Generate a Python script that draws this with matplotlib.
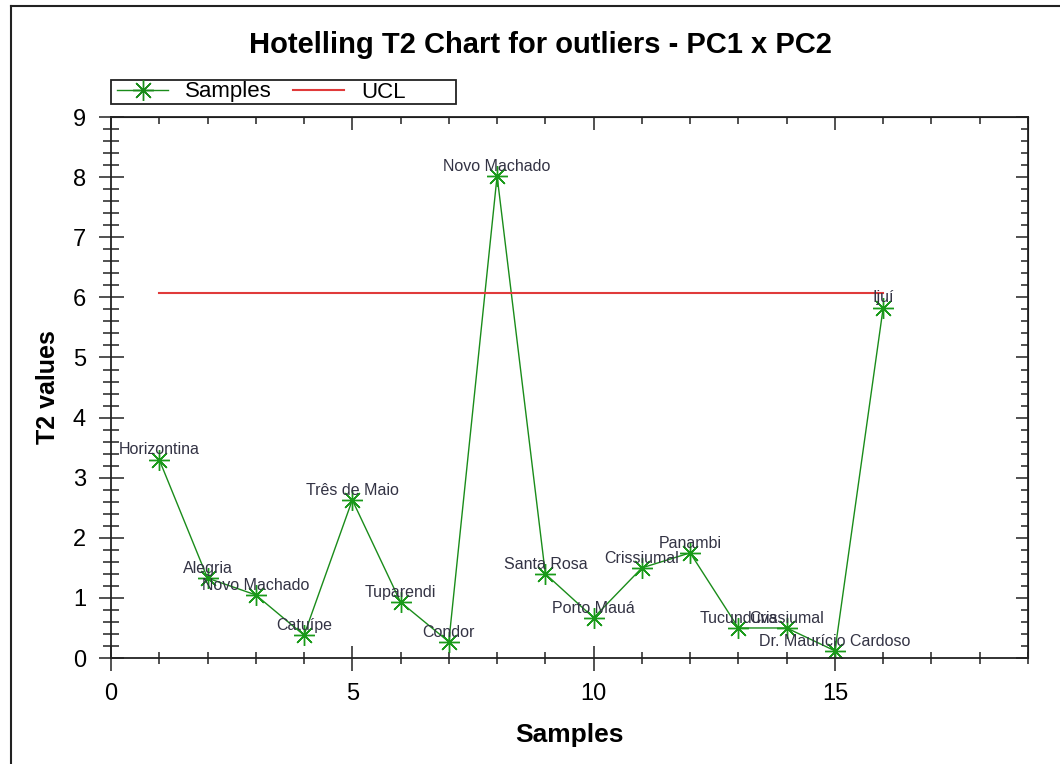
import matplotlib.pyplot as plt
from matplotlib.ticker import MultipleLocator
from matplotlib.lines import Line2D
from matplotlib.patches import Rectangle

plt.rcParams['font.family'] = ['Liberation Sans', 'DejaVu Sans']

samples = [1, 2, 3, 4, 5, 6, 7, 8, 9, 10, 11, 12, 13, 14, 15, 16]
t2_values = [3.30, 1.33, 1.05, 0.38, 2.63, 0.93, 0.27, 8.02,
             1.40, 0.67, 1.50, 1.75, 0.50, 0.50, 0.12, 5.83]
names = ['Horizontina', 'Alegria', 'Novo Machado', 'Catuípe', 'Três de Maio',
         'Tuparendi', 'Condor', 'Novo Machado', 'Santa Rosa', 'Porto Mauá',
         'Crissiumal', 'Panambi', 'Tucunduva', 'Crissiumal',
         'Dr. Maurício Cardoso', 'Ijuí']
ucl_x = [1, 16]
ucl_value = 6.08

green = '#1a8c1a'
red = '#e03a3a'
dark = '#222222'

fig = plt.figure(figsize=(10.6, 7.64), dpi=100)
ax = fig.add_axes([0.1047, 0.1387, 0.8651, 0.7081])

ax.plot(samples, t2_values, color=green, lw=1, marker=(8, 2, 0),
        markersize=15, markeredgewidth=1, markeredgecolor='#1a9a1a')
ax.plot(ucl_x, [ucl_value, ucl_value], color=red, lw=1.5)

for x, y, name in zip(samples, t2_values, names):
    ax.annotate(name, (x, y), xytext=(0, 7), textcoords='offset points',
                ha='center', va='center', fontsize=11.5, color='#333344')

ax.set_xlim(0, 19)
ax.set_ylim(0, 9)
ax.xaxis.set_major_locator(MultipleLocator(5))
ax.xaxis.set_minor_locator(MultipleLocator(1))
ax.yaxis.set_major_locator(MultipleLocator(1))
ax.yaxis.set_minor_locator(MultipleLocator(0.2))
ax.tick_params(which='both', direction='inout', width=1.1, color=dark,
               labelsize=17, pad=9)
ax.tick_params(axis='x', which='major', length=18)
ax.tick_params(axis='x', which='minor', length=9)
ax.tick_params(axis='y', which='major', length=18)
ax.tick_params(axis='y', which='minor', length=12)
for s in ax.spines.values():
    s.set_linewidth(1.3)
    s.set_color(dark)

# inward ticks on the top and right edges, no labels
top = ax.secondary_xaxis('top')
top.xaxis.set_major_locator(MultipleLocator(5))
top.xaxis.set_minor_locator(MultipleLocator(1))
top.tick_params(which='both', direction='in', width=1.1, color=dark,
                labeltop=False)
top.tick_params(which='major', length=9)
top.tick_params(which='minor', length=5)
right = ax.secondary_yaxis('right')
right.yaxis.set_major_locator(MultipleLocator(1))
right.yaxis.set_minor_locator(MultipleLocator(0.2))
right.tick_params(which='both', direction='in', width=1.1, color=dark,
                  labelright=False)
right.tick_params(which='major', length=9)
right.tick_params(which='minor', length=5)

ax.set_xlabel('Samples', fontsize=19, fontweight='bold', labelpad=13)
ax.set_ylabel('T2 values', fontsize=18, fontweight='bold', labelpad=9)
fig.text(0.51, 0.941, 'Hotelling T2 Chart for outliers - PC1 x PC2',
         ha='center', va='center', fontsize=21, fontweight='bold')

handles = [Line2D([], [], color=green, lw=1, marker=(8, 2, 0),
                  markersize=15, markeredgewidth=1),
           Line2D([], [], color=red, lw=1.5)]
leg = fig.legend(handles, ['Samples', 'UCL'], ncol=2, fontsize=16,
                 loc='center left', bbox_to_anchor=(0.1104, 1 - 92 / 764),
                 borderaxespad=0, borderpad=0, frameon=False,
                 handlelength=2.3, handletextpad=0.77, columnspacing=0.95)
fig.add_artist(Rectangle((111 / 1060, 1 - 104 / 764), 345 / 1060, 24 / 764,
                         transform=fig.transFigure, fill=False,
                         edgecolor=dark, lw=1.3))

# outer frame (left and top edges visible)
fig.add_artist(Line2D([0.0104, 0.0104], [0, 0.992], color=dark, lw=1.5,
                      transform=fig.transFigure))
fig.add_artist(Line2D([0.0104, 1], [0.992, 0.992], color=dark, lw=1.5,
                      transform=fig.transFigure))

fig.savefig('out.png', dpi=100)
